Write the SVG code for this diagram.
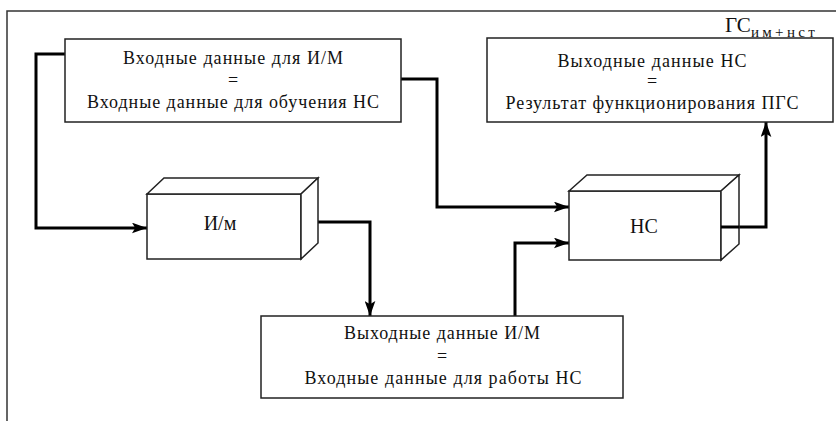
<svg xmlns="http://www.w3.org/2000/svg" width="836" height="421" viewBox="0 0 836 421">
<defs>
<style>
.bx{fill:#fff;stroke:#222;stroke-width:1.5}
.fr{fill:none;stroke:#333;stroke-width:1.5}
.cn{fill:none;stroke:#000;stroke-width:3;stroke-linejoin:miter}
.t{font-family:"Liberation Serif","DejaVu Serif","Times New Roman",serif;font-size:18px;fill:#111;text-anchor:middle}
.lb{font-family:"Liberation Serif","DejaVu Serif","Times New Roman",serif;font-size:20px;fill:#111;text-anchor:middle}
.gs{font-family:"Liberation Serif","DejaVu Serif","Times New Roman",serif;font-size:21px;fill:#111}
</style>
<marker id="ah" viewBox="0 0 14 10" refX="14" refY="5" markerWidth="15" markerHeight="11" markerUnits="userSpaceOnUse" orient="auto">
<path d="M0,0 L14,5 L0,10 L3,5 Z" fill="#000"/>
</marker>
</defs>
<rect width="836" height="421" fill="#fff"/>
<path class="fr" d="M7,421 V11 H836"/>
<g id="label-gs">
<text class="gs" x="725" y="32">ГС<tspan font-size="15" dy="5" textLength="64" lengthAdjust="spacing">им+нст</tspan></text>
</g>
<g id="connectors">
<path class="cn" d="M65,54 H36 V228 H147" marker-end="url(#ah)"/>
<path class="cn" d="M401,79 H437 V207 H569" marker-end="url(#ah)"/>
<path class="cn" d="M318,222 H370 V316" marker-end="url(#ah)"/>
<path class="cn" d="M515,316 V243 H569" marker-end="url(#ah)"/>
<path class="cn" d="M721,227 H766 V122" marker-end="url(#ah)"/>
</g>
<g id="input-data">
<rect class="bx" x="65" y="39" width="336" height="83"/>
<text class="t" x="233" y="64" textLength="220" lengthAdjust="spacing">Входные данные для И/М</text>
<text class="t" x="233" y="86">=</text>
<text class="t" x="233" y="108" textLength="292" lengthAdjust="spacing">Входные данные для обучения НС</text>
</g>
<g id="output-ns">
<rect class="bx" x="487" y="38" width="346" height="84"/>
<text class="t" x="652" y="67" textLength="189" lengthAdjust="spacing">Выходные данные НС</text>
<text class="t" x="652" y="87">=</text>
<text class="t" x="652" y="109" textLength="293" lengthAdjust="spacing">Результат функционирования ПГС</text>
</g>
<g id="im">
<rect class="bx" x="147" y="194" width="154" height="65"/>
<path class="bx" d="M147,194 L164,178 H318 L301,194 Z"/>
<path class="bx" d="M301,194 L318,178 V243 L301,259 Z"/>
<text class="lb" x="220" y="230">И/м</text>
</g>
<g id="ns">
<rect class="bx" x="569" y="191" width="152" height="69"/>
<path class="bx" d="M569,191 L587,175 H739 L721,191 Z"/>
<path class="bx" d="M721,191 L739,175 V244 L721,260 Z"/>
<path class="cn" d="M721,227 H739"/>
<text class="lb" x="644" y="233">НС</text>
</g>
<g id="output-im">
<rect class="bx" x="261" y="316" width="362" height="82"/>
<text class="t" x="442" y="339" textLength="196" lengthAdjust="spacing">Выходные данные И/М</text>
<text class="t" x="442" y="362">=</text>
<text class="t" x="443" y="384" textLength="277" lengthAdjust="spacing">Входные данные для работы НС</text>
</g>
</svg>
